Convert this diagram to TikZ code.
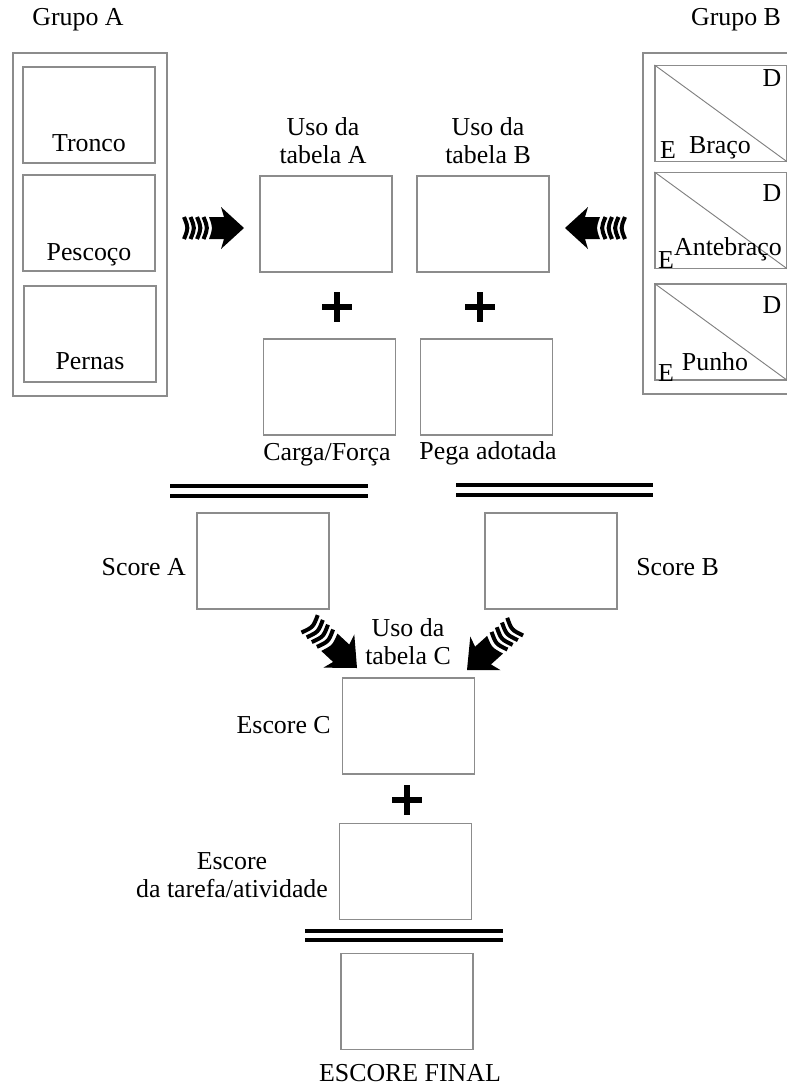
\documentclass[tikz,border=0pt]{standalone}
\usepackage{fontspec}
\setmainfont{Liberation Serif}
\usetikzlibrary{positioning}

\tikzset{
    pics/stripearrow/.style={code={
        \fill (0,0) -- (-23,-21) -- (-20,-11) -- (-35,-11) .. controls (-31,0) .. (-35,11) -- (-20,11) -- (-23,21) -- cycle;
        \foreach \sx in {-40.5,-47,-53.5,-60}
            \draw[line width=3pt] (\sx,-11) .. controls (\sx+4.5,0) .. (\sx,11);
    }},
    pics/plussign/.style={code={
        \draw[line width=3.9pt] (-15,0) -- (15,0) (0,-15) -- (0,15);
    }}
}

\begin{document}
\begin{tikzpicture}[
    x=0.75pt, y=-0.75pt,
    every node/.style={font=\fontsize{19.4}{21}\selectfont},
    box/.style={draw=black!45, line width=0.8pt, minimum width=99pt, minimum height=72pt, inner sep=0pt},
    group/.style={draw=black!45, line width=0.8pt, inner sep=0pt},
    lbl/.style={inner sep=0pt, align=center},
    diag/.style={draw=black!50, line width=0.7pt},
    eqline/.style={line width=2.6pt}
]
\useasboundingbox (0,0) rectangle (787,1086);

% grupo A
\node[lbl] (titA) at (78,20) {Grupo A};
\node[group, minimum width=115.5pt, minimum height=257.25pt] (grupoA) at (90,224.5) {};
\node[box] (tronco) at (89,115) {};
\node[box] (pescoco) at (89,223) {};
\node[box] (pernas) at (90,334) {};
\node[lbl, anchor=base] (ltronco) at (89,151) {Tronco};
\node[lbl, anchor=base] (lpescoco) at (89,260) {Pescoço};
\node[lbl, anchor=base] (lpernas) at (90,369) {Pernas};

% grupo B
\node[lbl] (titB) at (736,20) {Grupo B};
\node[group, minimum width=117pt, minimum height=255.75pt] (grupoB) at (721,223.5) {};
\node[box] (braco) at (721,113.5) {};
\node[box] (antebraco) at (721,220.5) {};
\node[box] (punho) at (721,332) {};
\foreach \b in {braco,antebraco,punho}
    \draw[diag] (\b.north west) -- (\b.south east);
\node[lbl, anchor=base] (lbraco) at (720,153) {Braço};
\node[lbl, anchor=base] (lantebraco) at (728,255) {Antebraço};
\node[lbl, anchor=base] (lpunho) at (715,370) {Punho};
\node[lbl, anchor=base] (d1) at (772,86) {D};
\node[lbl, anchor=base] (d2) at (772,201) {D};
\node[lbl, anchor=base] (d3) at (772,313) {D};
\node[lbl, anchor=base] (e1) at (668,158) {E};
\node[lbl, anchor=base] (e2) at (666,268) {E};
\node[lbl, anchor=base] (e3) at (666,381) {E};

% tabelas A e B
\node[lbl] (utabA) at (323,141) {Uso da\\tabela A};
\node[lbl] (utabB) at (488,141) {Uso da\\tabela B};
\node[box] (tabA) at (326,224) {};
\node[box] (tabB) at (483,224) {};
\pic at (244,228) {stripearrow};
\pic[rotate=180] at (565,228) {stripearrow};
\pic at (337,307) {plussign};
\pic at (480,307) {plussign};
\node[box] (carga) at (329.5,387) {};
\node[box] (pega) at (486.5,387) {};
\node[lbl] (lcarga) at (327,455) {Carga/Força};
\node[lbl] (lpega) at (488,453) {Pega adotada};
\draw[eqline] (170,486) -- (368,486) (170,496) -- (368,496);
\draw[eqline] (456,485) -- (653,485) (456,495) -- (653,495);

% scores
\node[box] (scoreA) at (263,561) {};
\node[box] (scoreB) at (551,561) {};
\node[lbl, anchor=base east] (lscoreA) at (186,575) {Score A};
\node[lbl, anchor=base west] (lscoreB) at (636,575) {Score B};
\pic[rotate=-43, scale=1.08] at (357,668) {stripearrow};
\pic[rotate=-138, scale=1.08] at (467,670) {stripearrow};
\node[lbl] (utabC) at (408,642) {Uso da\\tabela C};

% escore final
\node[box] (escoreC) at (408.5,726) {};
\node[lbl, anchor=base east] (lescoreC) at (331,733) {Escore C};
\pic at (407,800) {plussign};
\node[box] (tarefa) at (405.5,871.5) {};
\node[lbl] (ltarefa) at (232,875) {Escore\\da tarefa/atividade};
\draw[eqline] (305,931) -- (503,931) (305,940) -- (503,940);
\node[box] (final) at (407,1001.5) {};
\node[lbl, anchor=base] (lfinal) at (410,1081) {ESCORE FINAL};
\end{tikzpicture}
\end{document}
